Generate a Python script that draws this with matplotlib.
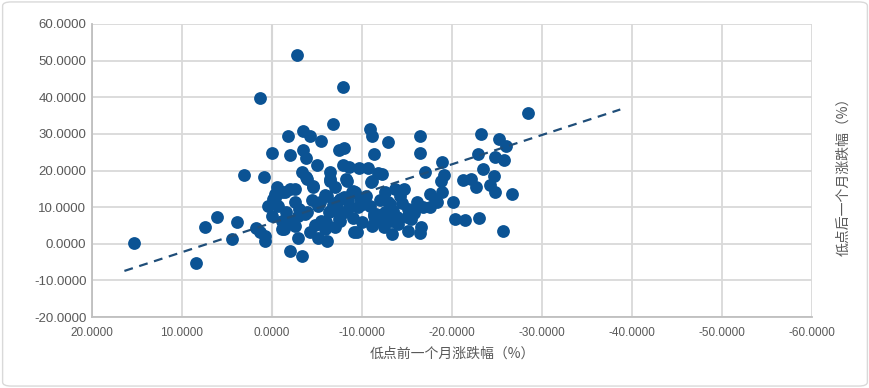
import numpy as np
import matplotlib
matplotlib.use("Agg")
import matplotlib.pyplot as plt
from matplotlib.patches import FancyBboxPatch

# x: 低点前一个月涨跌幅 (%), y: 低点后一个月涨跌幅 (%)
pre_month = [
    15.3, 8.4, 7.4, 6.1, 3.9, 4.4, 3.1, 1.8, 1.3, 0.8,
    1.3, 0.9, 0.0, -2.8, -7.9, -6.8, -28.4,
    -1.8, -3.5, -4.2, -5.4, -10.9, -11.1, -12.9, -16.5, -16.5, -18.9,
    -2.0, -3.4, -3.8, -5.0, -7.5, -8.0, -11.3, -7.9, -8.6, -9.7, -10.7,
    -6.4, -3.3, -11.8, -12.2, -17.0, -19.1, -18.8,
    -23.2, -25.2, -26.0, -22.9, -24.8, -25.8, -23.4, -24.7, -21.2, -22.1,
    -22.7, -24.2, -24.8, -26.7, -20.3, -21.5, -23.0, -25.7,
    -20.1, -18.9, -18.1, -17.6, -17.6, -18.3, -16.1, -16.8, -15.1, -15.5,
    -15.1, -16.6, -16.4, -13.3, -12.4, -13.3, -12.6, -12.9, -12.6, -13.7,
    -14.2, -15.0, -13.9, -11.6, -13.1, -11.1, -9.0, -8.5, -9.6, -10.9,
    -11.3, -11.1, -9.4, -11.5, -8.3, -3.9, -4.6, -6.4, -7.0, -6.1,
    -7.6, -8.9, -0.3, -1.4, -2.6, -2.6, 0.4, -0.7, 0.0, -1.1,
    -1.1, -2.9, -3.9, -5.1, -6.3, -7.2, -8.1, -7.6, -2.6, -2.9,
    -4.2, -5.1, -5.9, -6.1, -9.1, 0.8, -2.0, -3.3, -0.1, -5.9,
    -7.2, -6.4, -8.6, -10.1, -11.3, -3.7, -2.2, -5.5, -7.5, -1.3,
    -2.0, -1.1, -0.3, -4.6, -9.2, -11.0, -8.2, -6.5, -3.8, -14.7,
    -4.5, -5.3, -6.8, -8.0, -9.8, -10.4, -12.0, -13.5, -14.4, -6.0,
    -3.0, -4.8, -7.0, -9.0, -10.0, -12.2, -14.0, -1.6, -0.6, -15.8,
]
post_month = [
    0.1, -5.3, 4.6, 7.4, 6.0, 1.2, 18.9, 4.3, 3.1, 0.8,
    39.9, 18.2, 24.7, 51.4, 42.7, 32.6, 35.7,
    29.4, 30.9, 29.5, 28.0, 31.4, 29.4, 27.9, 29.3, 24.8, 22.2,
    24.2, 25.5, 23.4, 21.4, 25.5, 26.2, 24.6, 21.6, 20.9, 20.6, 20.6,
    19.5, 19.5, 19.3, 19.0, 19.5, 18.8, 17.2,
    30.0, 28.5, 26.8, 24.6, 23.8, 22.9, 20.5, 18.6, 17.5, 17.8,
    15.4, 16.0, 14.0, 13.7, 6.7, 6.6, 7.1, 3.6,
    11.3, 14.0, 12.2, 9.9, 13.6, 11.3, 11.3, 9.9, 9.5, 6.7,
    3.6, 4.5, 3.0, 2.6, 4.5, 6.3, 8.6, 11.3, 14.0, 14.9,
    13.1, 7.2, 7.2, 8.1, 10.8, 17.2, 14.5, 11.7, 9.9, 10.4,
    7.7, 4.9, 3.1, 6.3, 17.2, 17.7, 15.4, 17.2, 15.4, 13.1,
    12.2, 14.0, 13.6, 14.0, 14.9, 11.3, 10.4, 10.4, 7.7, 6.3,
    4.0, 7.7, 8.6, 10.4, 8.6, 9.5, 8.6, 6.3, 4.9, 1.7,
    3.1, 1.7, 4.0, 0.8, 3.1, 2.2, -1.9, -3.4, 12.2, 13.2,
    11.3, 9.0, 9.9, 10.9, 8.1, 8.1, 6.3, 6.3, 6.8, 4.1,
    15.0, 14.0, 12.6, 15.9, 14.0, 16.8, 17.7, 17.7, 18.1, 14.9,
    12.0, 11.5, 10.5, 12.8, 12.5, 13.0, 12.0, 9.0, 11.0, 6.0,
    9.5, 5.0, 4.5, 7.0, 6.0, 6.0, 5.5, 8.8, 15.5, 8.5,
]

x_ticks = [20, 10, 0, -10, -20, -30, -40, -50, -60]
y_ticks = [-20, -10, 0, 10, 20, 30, 40, 50, 60]
x_title = "低点前一个月涨跌幅（%）"
y_title = "低点后一个月涨跌幅（%）"

# Excel linear trendline as drawn in the source (slope, intercept), and its x range
trend_slope, trend_intercept = -0.80, 5.7
trend_from, trend_to = 16.4, -38.7

dot_color = "#0b5394"
grid_color = "#d9d9d9"
text_color = "#595959"

fig = plt.figure(figsize=(8.7, 3.88), dpi=100)
ax = fig.add_axes([92 / 870, 1 - 317 / 388, 720 / 870, 293 / 388])

ax.scatter(pre_month, post_month, s=85, color=dot_color, zorder=3, linewidths=0)

tx = np.array([trend_from, trend_to])
ax.plot(tx, trend_intercept + trend_slope * tx, ls=(0, (4, 3)), color="#1f4e79",
        lw=1.6, zorder=4)

ax.set_xlim(20, -60)
ax.set_ylim(-20, 60)
ax.set_xticks(x_ticks)
ax.set_yticks(y_ticks)
ax.set_xticklabels([f"{v:.4f}" for v in x_ticks], fontsize=8.5, color=text_color,
                   family="Liberation Sans")
ax.set_yticklabels([f"{v:.4f}" for v in y_ticks], fontsize=9.5, color=text_color,
                   family="Liberation Sans")
ax.tick_params(length=0, pad=4)
ax.tick_params(axis="x", pad=7)

ax.grid(True, color=grid_color, lw=1.3, zorder=0)
ax.axvline(0, color="#bfbfbf", lw=1.5, zorder=1)
for s in ["top", "right"]:
    ax.spines[s].set_visible(False)
for s in ["left", "bottom"]:
    ax.spines[s].set_color("#bfbfbf")
    ax.spines[s].set_linewidth(1.3)

ax.set_xlabel(x_title, fontsize=10, color=text_color, family="Noto Sans CJK SC", labelpad=6)
fig.text(843 / 870, 1 - 173 / 388, y_title, rotation=90, ha="center", va="center",
         fontsize=10, color=text_color, family="Noto Sans CJK SC")

border = FancyBboxPatch((0.003, 0.005), 0.994, 0.99, boxstyle="round,pad=0,rounding_size=0.01",
                        transform=fig.transFigure, fill=False, edgecolor="#d9d9d9", lw=1)
fig.patches.append(border)

fig.savefig("out.png", dpi=100, facecolor="white")
